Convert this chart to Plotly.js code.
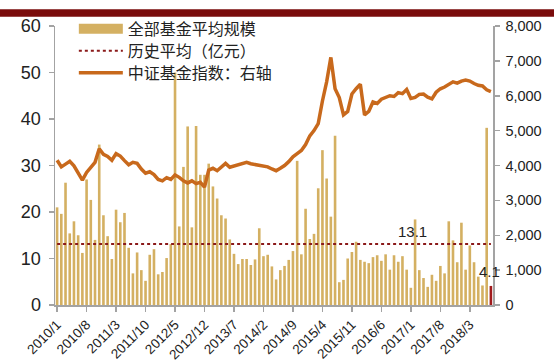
<!DOCTYPE html>
<html>
<head>
<meta charset="utf-8">
<script src="https://cdn.plot.ly/plotly-3.0.1.min.js"></script>
<style>html,body{margin:0;padding:0;background:#fff;}#chart{width:554px;height:363px;}</style>
</head>
<body>
<div id="chart"></div>
<script>
// Monthly categories 2010/1 .. 2018/8
var months = [];
for (var yr = 2010; yr <= 2018; yr++) {
  for (var mo = 1; mo <= 12; mo++) {
    if (yr === 2018 && mo > 8) break;
    months.push(yr + '/' + mo);
  }
}

// 全部基金平均规模 (亿元), left axis
var fundSize = [
  21.0,19.6,26.3,15.4,18.0,15.0,11.2,27.0,22.6,14.0,
  34.5,19.3,14.8,9.9,20.5,17.8,19.8,12.3,6.8,11.3,
  7.5,5.2,10.8,12.0,6.6,7.1,10.1,13.1,50.0,16.9,
  29.7,38.4,16.7,38.5,28.0,28.0,30.4,25.5,22.9,19.3,
  18.6,14.1,11.0,8.8,9.9,9.9,8.6,9.8,16.5,10.5,
  10.8,8.3,5.5,7.5,8.4,9.7,11.6,31.0,10.9,20.7,
  14.2,15.3,25.1,33.3,27.2,19.0,36.4,4.9,5.4,10.0,
  11.4,13.6,9.7,9.3,9.0,10.3,10.7,9.5,10.9,7.6,
  10.7,9.3,10.5,7.6,3.7,18.4,7.5,5.8,3.9,6.5,
  5.2,8.4,6.8,18.0,13.9,9.2,17.7,7.6,12.8,9.2,
  6.1,4.2,38.1,4.1
];

// 中证基金指数, right axis
var fundIndex = [
  4150,3960,4040,4120,3990,3760,3580,3800,3960,4090,
  4480,4320,4260,4150,4340,4270,4140,4020,4090,4060,
  3900,3780,3820,3740,3600,3560,3650,3600,3730,3660,
  3560,3500,3560,3480,3520,3380,3870,3920,3850,3960,
  4060,3950,3990,4010,4060,4090,4050,4030,4000,4000,
  3960,3900,3850,3920,4000,4110,4250,4340,4430,4600,
  4850,5000,5200,5850,6400,7100,6200,5950,5450,5550,
  6050,6200,6330,5450,5550,5820,5780,5900,5950,6000,
  5980,6090,6060,6180,5920,5950,6040,6050,5960,5910,
  6100,6200,6250,6320,6400,6360,6420,6450,6420,6350,
  6300,6280,6170,6120
];

var historicalAvg = 13.1;
var latestLabel = '4.1';

var tickStep = 7;
var tickVals = [], tickText = [];
for (var i = 0; i < months.length; i += tickStep) { tickVals.push(months[i]); tickText.push(months[i]); }

var barColor = '#d4b062';
var lastColor = '#a0191c';
var barColors = fundSize.map(function (v, k) { return k === fundSize.length - 1 ? lastColor : barColor; });
var lineColor = '#c8691c';
var avgColor = '#8b1a1a';
var axisColor = '#a3a3a3';

var traces = [
  { type: 'bar', x: months, y: fundSize, marker: { color: barColors, line: { width: 0 } },
    showlegend: false, hoverinfo: 'x+y', yaxis: 'y' },
  // legend entry for bars (wide swatch)
  { type: 'scatter', mode: 'lines', x: [null], y: [null], name: '全部基金平均规模',
    line: { color: barColor, width: 11 }, hoverinfo: 'skip', legend: 'legend' },
  { type: 'scatter', mode: 'lines', x: [months[0], months[months.length - 1]], y: [historicalAvg, historicalAvg],
    name: '历史平均（亿元）', line: { color: avgColor, width: 2, dash: 'dot' }, yaxis: 'y', legend: 'legend2' },
  { type: 'scatter', mode: 'lines', x: months, y: fundIndex, name: '中证基金指数：右轴',
    line: { color: lineColor, width: 3.5 }, yaxis: 'y2', legend: 'legend3' }
];

function legendAt(yc) {
  return {
    x: 0.043, y: yc, xanchor: 'left', yanchor: 'middle',
    font: { family: '"Noto Sans CJK SC", sans-serif', size: 16, color: '#222' },
    itemwidth: 44, bgcolor: 'rgba(0,0,0,0)', borderwidth: 0
  };
}

var layout = {
  width: 554, height: 363,
  margin: { l: 55, r: 61, t: 12, b: 58, pad: 0 },
  paper_bgcolor: '#ffffff', plot_bgcolor: '#ffffff',
  font: { family: '"Liberation Sans", Arial, sans-serif', color: '#222', size: 15 },
  bargap: 0.38,
  xaxis: {
    type: 'category', range: [-0.5, months.length - 0.5],
    tickmode: 'array', tickvals: tickVals, ticktext: tickText, tickangle: -45,
    tickfont: { size: 13.5, color: '#222' },
    showline: true, linecolor: axisColor, linewidth: 1.5,
    ticks: 'outside', ticklen: 5, tickcolor: axisColor, tickwidth: 1.5,
    showgrid: false, zeroline: false
  },
  yaxis: {
    range: [0, 60], dtick: 10, tickfont: { size: 18 }, ticklabelstandoff: 4,
    showline: true, linecolor: axisColor, linewidth: 1.5,
    ticks: 'outside', ticklen: 5, tickcolor: axisColor, tickwidth: 1.5,
    showgrid: false, zeroline: false
  },
  yaxis2: {
    overlaying: 'y', side: 'right', range: [0, 8000], dtick: 1000, tickformat: ',d',
    tickfont: { size: 14.5 }, ticklabelstandoff: 3,
    showline: true, linecolor: axisColor, linewidth: 1.5,
    ticks: 'outside', ticklen: 5, tickcolor: axisColor, tickwidth: 1.5,
    showgrid: false, zeroline: false
  },
  showlegend: true,
  legend: legendAt(0.990),
  legend2: legendAt(0.911),
  legend3: legendAt(0.832),
  annotations: [
    { xref: 'x', yref: 'y', x: 84.3, y: historicalAvg, yshift: 13, text: String(historicalAvg),
      showarrow: false, font: { size: 15, color: '#222' } },
    { xref: 'x', yref: 'y', x: 102.6, y: 7.1, text: latestLabel,
      showarrow: false, font: { size: 15, color: '#222' } }
  ],
  shapes: [
    { type: 'rect', xref: 'paper', yref: 'paper', x0: -0.2, x1: 1.2, y0: 1.033, y1: 1.06,
      fillcolor: '#7a0c0c', line: { width: 0 }, layer: 'above' }
  ]
};

Plotly.newPlot('chart', traces, layout, { displayModeBar: false, staticPlot: true });
</script>
</body>
</html>
